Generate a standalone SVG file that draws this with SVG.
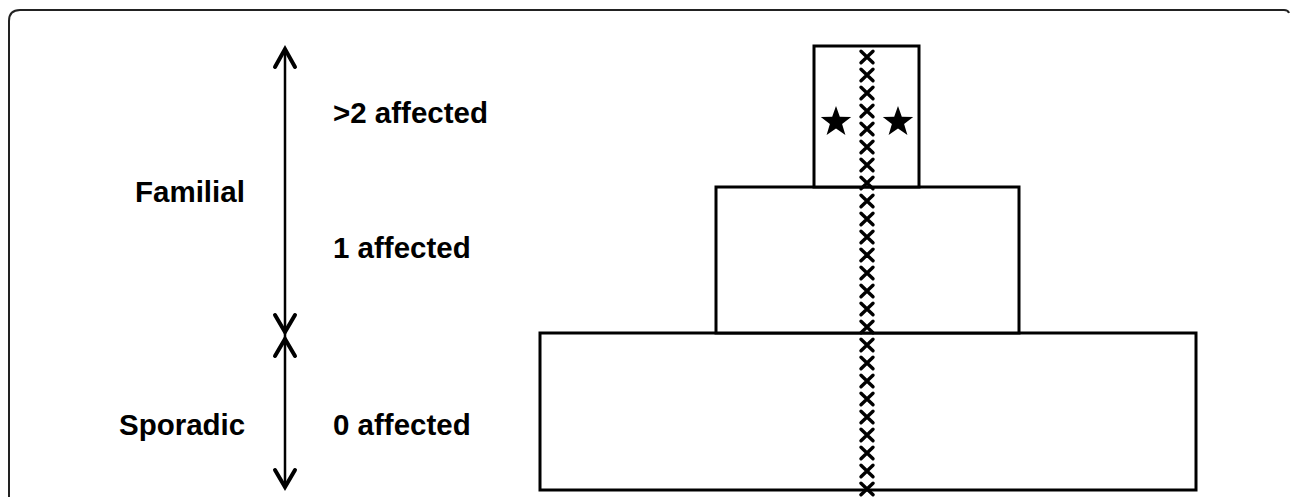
<svg xmlns="http://www.w3.org/2000/svg" width="1290" height="497" viewBox="0 0 1290 497">
<style>
.lbl{font-family:"Liberation Sans",Arial,sans-serif;font-weight:bold;font-size:29.5px;fill:#000}
.box{fill:#fff;stroke:#000;stroke-width:3}
.ax{fill:none;stroke:#000;stroke-width:2.5}
.head{fill:none;stroke:#000;stroke-width:4;stroke-linecap:round;stroke-linejoin:miter}
.x{fill:none;stroke:#000;stroke-width:3.4;stroke-linecap:round}
</style>
<defs>
<path id="cross" class="x" d="M-6,-5.8 L6,5.8 M6,-5.8 L-6,5.8"/>
<polygon id="star" points="0,-16 3.8,-5.2 15.2,-4.9 6.1,1.9 9.4,12.9 0,6.4 -9.4,12.9 -6.1,1.9 -15.2,-4.9 -3.8,-5.2" fill="#000"/>
</defs>
<rect width="1290" height="497" fill="#fff"/>
<path d="M9,497 V21 Q9,10 20,10 H1284 Q1288,10 1289,13" fill="none" stroke="#222" stroke-width="2"/>

<g id="connectors">
<line class="ax" x1="285" y1="49" x2="285" y2="488"/>
<polyline class="head" points="275,67 285,49 295,67"/>
<polyline class="head" points="275,315 285,332 295,315"/>
<polyline class="head" points="275,356 285,339 295,356"/>
<polyline class="head" points="275,470 285,487 295,470"/>
</g>

<g id="familial"><text class="lbl" x="135" y="202">Familial</text></g>
<g id="sporadic"><text class="lbl" x="119" y="435">Sporadic</text></g>
<g id="label-gt2"><text class="lbl" x="333" y="123">&gt;2 affected</text></g>
<g id="label-1"><text class="lbl" x="333" y="258">1 affected</text></g>
<g id="label-0"><text class="lbl" x="333" y="435">0 affected</text></g>

<g id="tier-0"><rect class="box" x="540" y="333" width="656" height="157"/></g>
<g id="tier-1"><rect class="box" x="716" y="187" width="303" height="146"/></g>
<g id="tier-gt2"><rect class="box" x="814" y="46" width="105" height="141"/></g>

<g id="stars">
<use href="#star" x="836" y="122"/>
<use href="#star" x="898" y="122"/>
</g>

<g id="crosses">
<use href="#cross" x="867" y="57"/>
<use href="#cross" x="867" y="75"/>
<use href="#cross" x="867" y="93"/>
<use href="#cross" x="867" y="111"/>
<use href="#cross" x="867" y="129"/>
<use href="#cross" x="867" y="147"/>
<use href="#cross" x="867" y="165"/>
<use href="#cross" x="867" y="183"/>
<use href="#cross" x="867" y="201"/>
<use href="#cross" x="867" y="219"/>
<use href="#cross" x="867" y="237"/>
<use href="#cross" x="867" y="255"/>
<use href="#cross" x="867" y="273"/>
<use href="#cross" x="867" y="291"/>
<use href="#cross" x="867" y="309"/>
<use href="#cross" x="867" y="327"/>
<use href="#cross" x="867" y="345"/>
<use href="#cross" x="867" y="363"/>
<use href="#cross" x="867" y="381"/>
<use href="#cross" x="867" y="399"/>
<use href="#cross" x="867" y="417"/>
<use href="#cross" x="867" y="435"/>
<use href="#cross" x="867" y="453"/>
<use href="#cross" x="867" y="471"/>
<use href="#cross" x="867" y="489"/>
</g>
</svg>
